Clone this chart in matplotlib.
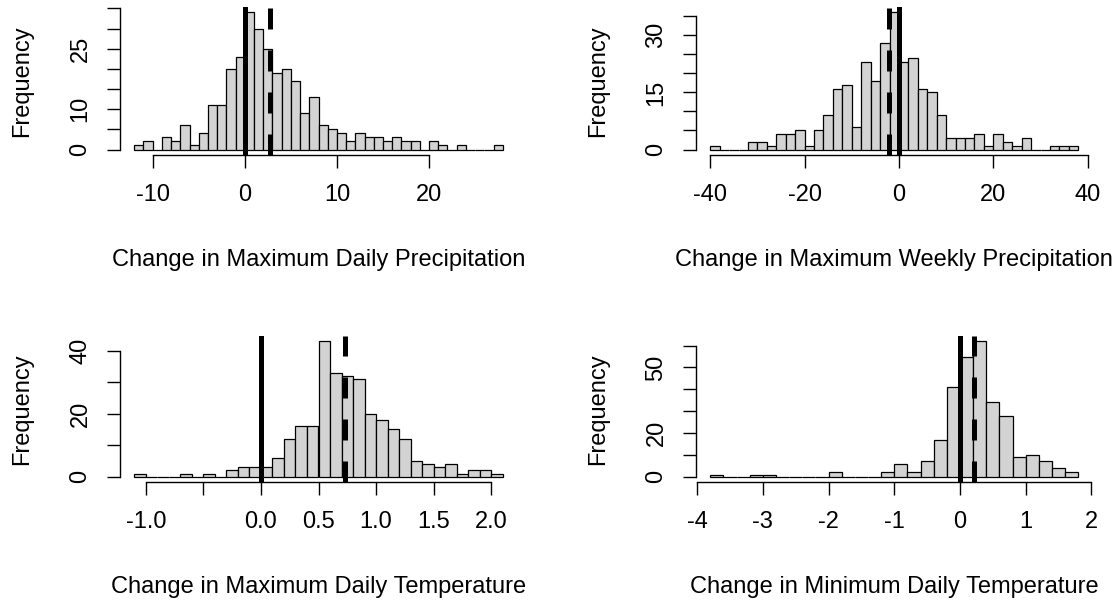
import matplotlib
matplotlib.use("Agg")
import matplotlib.pyplot as plt
import numpy as np

plt.rcParams["font.family"] = ["Liberation Sans", "DejaVu Sans"]
plt.rcParams["font.size"] = 17

# Change in maximum daily precipitation: bins of width 1 starting at -12
daily_precip_start = -12
daily_precip_width = 1
daily_precip_counts = [1, 2, 0, 3, 2, 6, 1, 4, 11, 11, 20, 23, 34, 30, 25, 19, 20, 17, 9, 13,
                       6, 5, 4, 2, 4, 3, 3, 2, 3, 2, 2, 0, 2, 1, 0, 1, 0, 0, 0, 1]
daily_precip_lines = [0, 2.77]  # solid, dashed

# Change in maximum weekly precipitation: bins of width 2 starting at -40
weekly_precip_start = -40
weekly_precip_width = 2
weekly_precip_counts = [1, 0, 0, 0, 2, 2, 1, 4, 4, 5, 1, 5, 9, 16, 17, 6, 23, 18, 28, 36,
                        23, 24, 16, 15, 9, 3, 3, 3, 4, 1, 4, 2, 1, 3, 0, 0, 1, 1, 1]
weekly_precip_lines = [0, -2.05]

# Change in maximum daily temperature: bins of width 0.1 starting at -1.1
max_temp_start = -1.1
max_temp_width = 0.1
max_temp_counts = [1, 0, 0, 0, 1, 0, 1, 0, 2, 3, 3, 3, 6, 12, 16, 16, 43, 33, 32, 31,
                   20, 18, 15, 12, 5, 4, 3, 4, 1, 2, 2, 1]
max_temp_lines = [0, 0.73]

# Change in minimum daily temperature: bins of width 0.2 starting at -3.8
min_temp_start = -3.8
min_temp_width = 0.2
min_temp_counts = [1, 0, 0, 1, 1, 0, 0, 0, 0, 2, 0, 0, 0, 2, 6, 2, 7, 17, 41, 55,
                   62, 34, 28, 9, 10, 7, 4, 2]
min_temp_lines = [0, 0.22]

# axis ticks (labels left blank where R dropped them)
daily_precip_xticks = [-10, 0, 10, 20]
daily_precip_xlabels = ["-10", "0", "10", "20"]
daily_precip_yticks = [0, 5, 10, 15, 20, 25, 30, 35]
daily_precip_ylabels = ["0", "", "10", "", "", "25", "", ""]

weekly_precip_xticks = [-40, -20, 0, 20, 40]
weekly_precip_xlabels = ["-40", "-20", "0", "20", "40"]
weekly_precip_yticks = [0, 5, 10, 15, 20, 25, 30, 35]
weekly_precip_ylabels = ["0", "", "", "15", "", "", "30", ""]

max_temp_xticks = [-1.0, -0.5, 0.0, 0.5, 1.0, 1.5, 2.0]
max_temp_xlabels = ["-1.0", "", "0.0", "0.5", "1.0", "1.5", "2.0"]
max_temp_yticks = [0, 10, 20, 30, 40]
max_temp_ylabels = ["0", "", "20", "", "40"]

min_temp_xticks = [-4, -3, -2, -1, 0, 1, 2]
min_temp_xlabels = ["-4", "-3", "-2", "-1", "0", "1", "2"]
min_temp_yticks = [0, 10, 20, 30, 40, 50, 60]
min_temp_ylabels = ["0", "", "20", "", "", "50", ""]


def draw_hist(ax, start, width, counts, lines, xticks, xlabels, yticks, ylabels, title):
    counts = np.asarray(counts)
    lefts = start + width * np.arange(len(counts))
    ax.bar(lefts, counts, width=width, align="edge", color="#d3d3d3",
           edgecolor="black", linewidth=0.9, zorder=2)

    # R style axis ranges: data range plus 4% on each side
    lo, hi = lefts[0], lefts[-1] + width
    ax.set_xlim(lo - 0.04 * (hi - lo), hi + 0.04 * (hi - lo))
    top = counts.max()
    ax.set_ylim(-0.04 * top, 1.04 * top)
    y0, y1 = ax.get_ylim()

    ax.plot([lines[0], lines[0]], [y0, y1], color="black", lw=3.6, zorder=3)
    ax.plot([lines[1], lines[1]], [y0, y1], color="black", lw=3.6,
            dashes=(4.2, 4.2), zorder=3)

    ax.set_xticks(xticks)
    ax.set_xticklabels(xlabels)
    ax.set_yticks(yticks)
    ax.set_yticklabels(ylabels, rotation=90, va="center")

    for side in ["top", "right"]:
        ax.spines[side].set_visible(False)
    ax.spines["bottom"].set_bounds(xticks[0], xticks[-1])
    ax.spines["left"].set_bounds(yticks[0], yticks[-1])
    ax.spines["bottom"].set_linewidth(1.0)
    ax.spines["left"].set_linewidth(1.0)

    ax.tick_params(axis="both", direction="out", length=9.5, width=1.0, labelsize=17)
    ax.tick_params(axis="x", pad=11.5)
    ax.tick_params(axis="y", pad=10.7)

    ax.set_xlabel(title, labelpad=30.5)
    ax.set_ylabel("Frequency", labelpad=26)


fig = plt.figure(figsize=(11.2, 6.03), dpi=100)
W, H = 1120, 603

# plot regions in pixels (left, right, top, bottom)
col_left = (119.5, 517.5)
col_right = (695.5, 1093.0)
row_top = (7.0, 155.0)
row_bottom = (335.8, 482.2)


def region(col, row):
    return [col[0] / W, 1 - row[1] / H, (col[1] - col[0]) / W, (row[1] - row[0]) / H]


ax1 = fig.add_axes(region(col_left, row_top))
ax2 = fig.add_axes(region(col_right, row_top))
ax3 = fig.add_axes(region(col_left, row_bottom))
ax4 = fig.add_axes(region(col_right, row_bottom))

draw_hist(ax1, daily_precip_start, daily_precip_width, daily_precip_counts, daily_precip_lines,
          daily_precip_xticks, daily_precip_xlabels, daily_precip_yticks, daily_precip_ylabels,
          "Change in Maximum Daily Precipitation")
draw_hist(ax2, weekly_precip_start, weekly_precip_width, weekly_precip_counts, weekly_precip_lines,
          weekly_precip_xticks, weekly_precip_xlabels, weekly_precip_yticks, weekly_precip_ylabels,
          "Change in Maximum Weekly Precipitation")
draw_hist(ax3, max_temp_start, max_temp_width, max_temp_counts, max_temp_lines,
          max_temp_xticks, max_temp_xlabels, max_temp_yticks, max_temp_ylabels,
          "Change in Maximum Daily Temperature")
draw_hist(ax4, min_temp_start, min_temp_width, min_temp_counts, min_temp_lines,
          min_temp_xticks, min_temp_xlabels, min_temp_yticks, min_temp_ylabels,
          "Change in Minimum Daily Temperature")

fig.savefig("out.png", dpi=100)
plt.close(fig)
